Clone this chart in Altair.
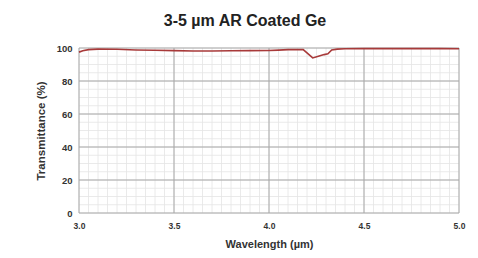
import altair as alt
import pandas as pd

wavelength = [3.00, 3.02, 3.05, 3.10, 3.20, 3.30, 3.40, 3.50, 3.60, 3.70, 3.80, 3.90, 4.00, 4.05, 4.10, 4.15, 4.18, 4.20, 4.23, 4.26, 4.29, 4.31, 4.33, 4.36, 4.40, 4.50, 4.60, 4.70, 4.80, 4.90, 5.00]
transmittance = [97.5, 98.3, 99.0, 99.3, 99.2, 98.8, 98.6, 98.4, 98.2, 98.2, 98.3, 98.4, 98.5, 98.7, 99.0, 99.1, 99.0, 97.0, 94.0, 95.0, 96.0, 96.5, 98.8, 99.3, 99.5, 99.6, 99.6, 99.6, 99.6, 99.6, 99.5]

x_minor = [round(3.0 + 0.05 * i, 2) for i in range(41)]
y_minor = list(range(0, 101, 5))
x_major = [3.0, 3.5, 4.0, 4.5, 5.0]
y_major = [0, 20, 40, 60, 80, 100]

FONT = "Liberation Sans"

df = pd.DataFrame({"w": wavelength, "t": transmittance})
xs = alt.Scale(domain=[3.0, 5.0], nice=False)
ys = alt.Scale(domain=[0, 100], nice=False)

x_axis = alt.Axis(values=x_major, format=".1f", grid=False, domain=False, ticks=False,
                  labelFlush=False,
                  labelFont=FONT, labelFontSize=8.5, labelFontWeight="bold", labelColor="#333",
                  labelPadding=8, titleFont=FONT, titleFontSize=11, titleFontWeight="bold",
                  titleColor="#333", titlePadding=9)
y_axis = alt.Axis(values=y_major, grid=False, domain=False, ticks=False,
                  labelFont=FONT, labelFontSize=9.5, labelFontWeight="bold", labelColor="#333",
                  labelPadding=7, titleFont=FONT, titleFontSize=11.5, titleFontWeight="bold",
                  titleColor="#333", titlePadding=10)
XT = "Wavelength (µm)"
YT = "Transmittance (%)"

vminor = alt.Chart(pd.DataFrame({"w": x_minor})).mark_rule(color="#e4e4e4", strokeWidth=0.8).encode(
    x=alt.X("w:Q", scale=xs, title=XT, axis=x_axis))
hminor = alt.Chart(pd.DataFrame({"t": y_minor})).mark_rule(color="#e4e4e4", strokeWidth=0.8).encode(
    y=alt.Y("t:Q", scale=ys, title=YT, axis=y_axis))
vmajor = alt.Chart(pd.DataFrame({"w": x_major})).mark_rule(color="#a8a8a8", strokeWidth=1).encode(
    x=alt.X("w:Q", scale=xs, title=XT, axis=x_axis))
hmajor = alt.Chart(pd.DataFrame({"t": y_major})).mark_rule(color="#a8a8a8", strokeWidth=1).encode(
    y=alt.Y("t:Q", scale=ys, title=YT, axis=y_axis))

line = alt.Chart(df).mark_line(color="#a83a3a", strokeWidth=1.6).encode(
    x=alt.X("w:Q", scale=xs, title=XT, axis=x_axis),
    y=alt.Y("t:Q", scale=ys, title=YT, axis=y_axis),
)

chart = alt.layer(vminor, hminor, vmajor, hmajor, line).properties(
    width=380, height=165,
    title=alt.TitleParams("3-5 µm AR Coated Ge", font=FONT, fontSize=16, fontWeight="bold",
                          color="#222", offset=14, anchor="middle", dx=-24),
    autosize=alt.AutoSizeParams(type="none"),
    padding={"left": 71, "top": 40, "right": 11, "bottom": 45},
).configure_view(stroke=None)

chart.save("out.html", embed_options={"renderer": "svg", "actions": False})
